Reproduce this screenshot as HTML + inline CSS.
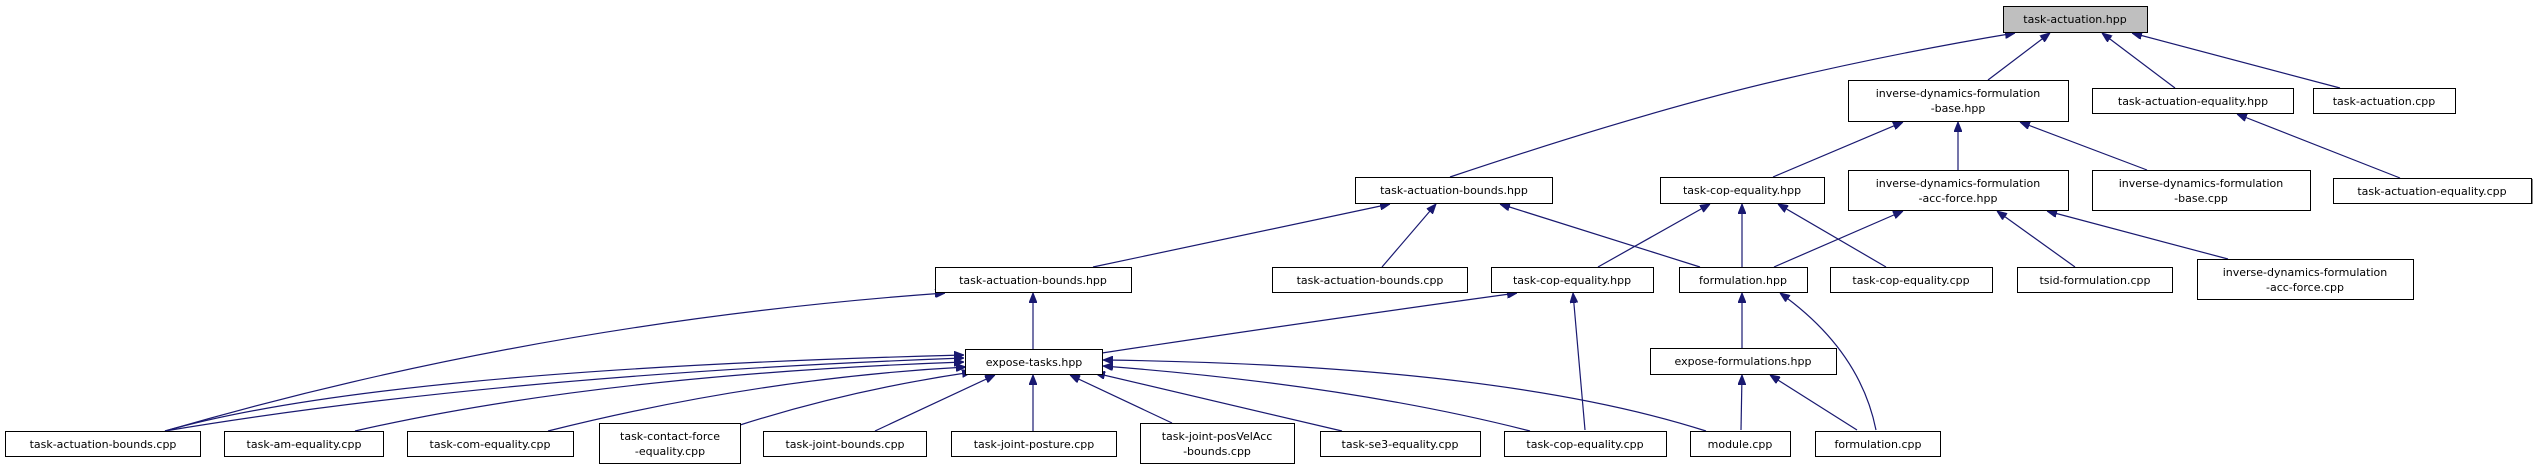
<!DOCTYPE html>
<html><head><meta charset="utf-8"><style>
html,body{margin:0;padding:0;background:#fff;}
svg{display:block;}
text{font-family:"DejaVu Sans","Liberation Sans",sans-serif;font-size:11px;fill:#000;text-anchor:middle;}
.n{fill:#fff;stroke:#000;stroke-width:1;}
.s{fill:#888;}
.e{fill:none;stroke:#191970;stroke-width:1.2;}
</style></head><body>
<svg width="2537" height="469" viewBox="0 0 2537 469" xmlns="http://www.w3.org/2000/svg">
<defs>
<marker id="a" viewBox="0 0 10 8" refX="10" refY="4" markerWidth="10" markerHeight="8" markerUnits="userSpaceOnUse" orient="auto">
<path d="M0,0 L10,4 L0,8 z" fill="#191970" stroke="#191970"/>
</marker>
</defs>
<g class="e" marker-end="url(#a)">
<path d="M1450,177 Q1650,110 1780,80 Q1900,52 2015,33"/>
<path d="M1988,80 L2050,33"/>
<path d="M2175,88 L2102,33"/>
<path d="M2340,88 L2132,33"/>
<path d="M1773,177 L1903,122"/>
<path d="M1958,170 L1958,122"/>
<path d="M2147,170 L2020,122"/>
<path d="M2400,178 L2237,114"/>
<path d="M1093,267 L1390,204"/>
<path d="M1382,267 L1436,204"/>
<path d="M1700,267 L1500,204"/>
<path d="M1598,267 L1710,204"/>
<path d="M1742,267 L1742,204"/>
<path d="M1886,267 L1778,204"/>
<path d="M1774,267 L1903,211"/>
<path d="M2075,267 L1997,211"/>
<path d="M2228,259 L2047,211"/>
<path d="M165,431 Q540,322 945,293"/>
<path d="M1033,349 L1033,293"/>
<path d="M1102,353 Q1320,320 1517,293"/>
<path d="M1585,430 L1573,293"/>
<path d="M1742,348 L1742,293"/>
<path d="M1876,430 Q1860,350 1780,293"/>
<path d="M1741,430 L1742,375"/>
<path d="M1857,430 L1770,375"/>
<path d="M165,431 Q380,370 964,355"/>
<path d="M165,431 Q500,375 964,358"/>
<path d="M355,431 Q600,375 964,362"/>
<path d="M548,431 Q760,378 966,367"/>
<path d="M740,425 Q850,390 972,372"/>
<path d="M875,431 L995,375"/>
<path d="M1033,431 L1033,375"/>
<path d="M1172,423 L1070,375"/>
<path d="M1342,431 L1095,373"/>
<path d="M1530,431 Q1350,385 1103,366"/>
<path d="M1706,431 Q1500,365 1103,360"/>
</g>
<g>
<rect class="s" x="2004" y="7" width="144" height="26"/><rect class="n" x="2003.5" y="6.5" width="144" height="26" style="fill:#bfbfbf"/><text x="2075" y="23">task-actuation.hpp</text>
<rect class="s" x="1849" y="81" width="220" height="41"/><rect class="n" x="1848.5" y="80.5" width="220" height="41"/><text x="1958" y="97">inverse-dynamics-formulation</text><text x="1958" y="112">-base.hpp</text>
<rect class="s" x="2093" y="89" width="201" height="25"/><rect class="n" x="2092.5" y="88.5" width="201" height="25"/><text x="2193" y="105">task-actuation-equality.hpp</text>
<rect class="s" x="2314" y="89" width="142" height="25"/><rect class="n" x="2313.5" y="88.5" width="142" height="25"/><text x="2384" y="105">task-actuation.cpp</text>
<rect class="s" x="1356" y="178" width="197" height="26"/><rect class="n" x="1355.5" y="177.5" width="197" height="26"/><text x="1454" y="194">task-actuation-bounds.hpp</text>
<rect class="s" x="1661" y="178" width="164" height="26"/><rect class="n" x="1660.5" y="177.5" width="164" height="26"/><text x="1742" y="194">task-cop-equality.hpp</text>
<rect class="s" x="1849" y="171" width="220" height="40"/><rect class="n" x="1848.5" y="170.5" width="220" height="40"/><text x="1958" y="187">inverse-dynamics-formulation</text><text x="1958" y="202">-acc-force.hpp</text>
<rect class="s" x="2093" y="171" width="218" height="40"/><rect class="n" x="2092.5" y="170.5" width="218" height="40"/><text x="2201" y="187">inverse-dynamics-formulation</text><text x="2201" y="202">-base.cpp</text>
<rect class="s" x="2334" y="179" width="199" height="25"/><rect class="n" x="2333.5" y="178.5" width="198" height="25"/><text x="2432" y="195">task-actuation-equality.cpp</text>
<rect class="s" x="936" y="268" width="196" height="25"/><rect class="n" x="935.5" y="267.5" width="196" height="25"/><text x="1033" y="284">task-actuation-bounds.hpp</text>
<rect class="s" x="1273" y="268" width="195" height="25"/><rect class="n" x="1272.5" y="267.5" width="195" height="25"/><text x="1370" y="284">task-actuation-bounds.cpp</text>
<rect class="s" x="1492" y="268" width="162" height="25"/><rect class="n" x="1491.5" y="267.5" width="162" height="25"/><text x="1572" y="284">task-cop-equality.hpp</text>
<rect class="s" x="1680" y="268" width="128" height="25"/><rect class="n" x="1679.5" y="267.5" width="128" height="25"/><text x="1743" y="284">formulation.hpp</text>
<rect class="s" x="1831" y="268" width="162" height="25"/><rect class="n" x="1830.5" y="267.5" width="162" height="25"/><text x="1911" y="284">task-cop-equality.cpp</text>
<rect class="s" x="2018" y="268" width="155" height="25"/><rect class="n" x="2017.5" y="267.5" width="155" height="25"/><text x="2095" y="284">tsid-formulation.cpp</text>
<rect class="s" x="2198" y="260" width="216" height="40"/><rect class="n" x="2197.5" y="259.5" width="216" height="40"/><text x="2305" y="276">inverse-dynamics-formulation</text><text x="2305" y="291">-acc-force.cpp</text>
<rect class="s" x="966" y="350" width="137" height="25"/><rect class="n" x="965.5" y="349.5" width="137" height="25"/><text x="1034" y="366">expose-tasks.hpp</text>
<rect class="s" x="1651" y="349" width="186" height="26"/><rect class="n" x="1650.5" y="348.5" width="186" height="26"/><text x="1743" y="365">expose-formulations.hpp</text>
<rect class="s" x="6" y="432" width="195" height="25"/><rect class="n" x="5.5" y="431.5" width="195" height="25"/><text x="103" y="448">task-actuation-bounds.cpp</text>
<rect class="s" x="225" y="432" width="159" height="25"/><rect class="n" x="224.5" y="431.5" width="159" height="25"/><text x="304" y="448">task-am-equality.cpp</text>
<rect class="s" x="408" y="432" width="166" height="25"/><rect class="n" x="407.5" y="431.5" width="166" height="25"/><text x="490" y="448">task-com-equality.cpp</text>
<rect class="s" x="600" y="424" width="141" height="40"/><rect class="n" x="599.5" y="423.5" width="141" height="40"/><text x="670" y="440">task-contact-force</text><text x="670" y="455">-equality.cpp</text>
<rect class="s" x="764" y="432" width="163" height="25"/><rect class="n" x="763.5" y="431.5" width="163" height="25"/><text x="845" y="448">task-joint-bounds.cpp</text>
<rect class="s" x="952" y="432" width="165" height="25"/><rect class="n" x="951.5" y="431.5" width="165" height="25"/><text x="1034" y="448">task-joint-posture.cpp</text>
<rect class="s" x="1141" y="424" width="154" height="40"/><rect class="n" x="1140.5" y="423.5" width="154" height="40"/><text x="1217" y="440">task-joint-posVelAcc</text><text x="1217" y="455">-bounds.cpp</text>
<rect class="s" x="1321" y="432" width="160" height="25"/><rect class="n" x="1320.5" y="431.5" width="160" height="25"/><text x="1400" y="448">task-se3-equality.cpp</text>
<rect class="s" x="1505" y="432" width="162" height="25"/><rect class="n" x="1504.5" y="431.5" width="162" height="25"/><text x="1585" y="448">task-cop-equality.cpp</text>
<rect class="s" x="1691" y="432" width="100" height="25"/><rect class="n" x="1690.5" y="431.5" width="100" height="25"/><text x="1740" y="448">module.cpp</text>
<rect class="s" x="1816" y="432" width="125" height="25"/><rect class="n" x="1815.5" y="431.5" width="125" height="25"/><text x="1878" y="448">formulation.cpp</text>
</g>
</svg>
</body></html>
